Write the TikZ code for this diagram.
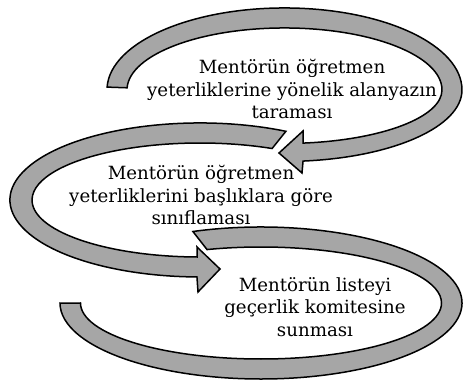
\documentclass[tikz,border=0pt]{standalone}
\usepackage{fontspec}
\setmainfont{DejaVu Serif}
\definecolor{arrowgray}{HTML}{A6A6A6}
\tikzset{
  swoosh/.style={draw=black, line width=1.5pt, fill=arrowgray, line join=miter},
  step text/.style={align=center, inner sep=0pt, font=\fontsize{18.2}{22.5}\selectfont}
}

\begin{document}
\begin{tikzpicture}[x=1pt, y=1pt]

\useasboundingbox (0,0) rectangle (463,383);

% top loop, head pointing left
\draw [swoosh] (107.1,295.9)
  arc [start angle=178, end angle=0, x radius=177.5pt, y radius=82pt]
  arc [start angle=0, end angle=-84, x radius=177.5pt, y radius=71.5pt]
  -- (302,210) -- (279,230) -- (303,252) -- (303,239.9)
  arc [start angle=-83.25, end angle=0, x radius=157.5pt, y radius=53.5pt]
  arc [start angle=0, end angle=178, x radius=157.5pt, y radius=62pt]
  -- cycle;

% middle loop, head pointing right
\draw [swoosh] (285.9,251.7)
  arc [start angle=63.1, end angle=269.1, x radius=190pt, y radius=77pt]
  -- (198,91) -- (220,114) -- (197,136) -- (197.1,126)
  arc [start angle=269, end angle=64.6, x radius=168pt, y radius=57pt]
  -- cycle;

% bottom loop, no head
\draw [swoosh] (192.9,151.5)
  arc [start angle=109.8, end angle=-180, x radius=201pt, y radius=76pt]
  -- (80.5,80)
  arc [start angle=-180, end angle=107.4, x radius=180.5pt, y radius=56pt]
  -- cycle;

\node [step text] (literature) at (292,294)
  {Mentörün öğretmen\\yeterliklerine yönelik alanyazın\\taraması};
\node [step text] (grouping) at (201,188)
  {Mentörün öğretmen\\yeterliklerini başlıklara göre\\sınıflaması};
\node [step text] (committee) at (315,76)
  {Mentörün listeyi\\geçerlik komitesine\\sunması};

\end{tikzpicture}
\end{document}
